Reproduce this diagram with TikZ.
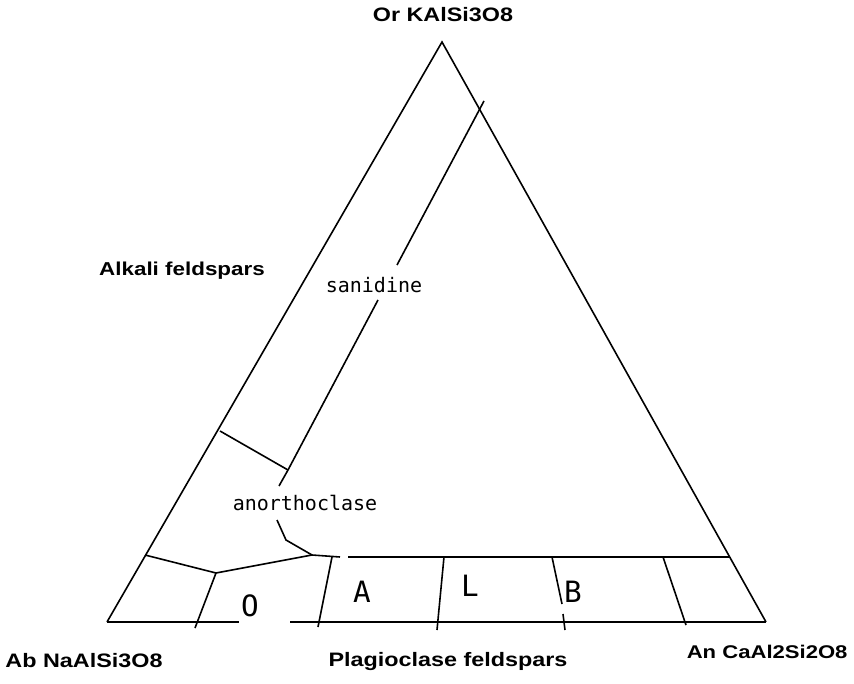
\documentclass[tikz,border=0pt]{standalone}
\usepackage{fontspec}
\newfontfamily\boldlbl[FakeStretch=1.2]{Liberation Sans}
\newfontfamily\thinlbl{DejaVu Sans Mono}
\tikzset{every picture/.style={line width=1.2pt}}
\tikzset{
  bold label/.style={inner sep=0.75pt, font=\boldlbl\bfseries\fontsize{14.6}{16}\selectfont},
  phase label/.style={inner sep=0.75pt, font=\thinlbl\fontsize{15}{17}\selectfont},
  field label/.style={inner sep=0.75pt, font=\thinlbl\fontsize{22}{24}\selectfont}
}

\begin{document}
\begin{tikzpicture}[x=0.75pt,y=0.75pt,yscale=-1,xscale=1]
    \useasboundingbox (0,0) rectangle (854,684);

    % corners
    \coordinate (or) at (442,42);
    \coordinate (ab) at (107,622);
    \coordinate (an) at (766,622);

    %Straight Lines [id:triangle sides]
    \draw    (ab) -- (or) -- (an) ;
    %Straight Lines [id:base, split round O]
    \coordinate (baseA) at (239,622);
    \coordinate (baseB) at (290,622);
    \draw    (ab) -- (baseA) ;
    \draw    (baseB) -- (an) ;

    %Straight Lines [id:plagioclase top]
    \coordinate (plgA) at (312,555);
    \coordinate (plgB) at (340,557);
    \coordinate (plgC) at (348,557);
    \coordinate (plgD) at (730,557);
    \draw    (plgA) -- (plgB) ;
    \draw    (plgC) -- (plgD) ;

    %Straight Lines [id:albite boundary]
    \coordinate (albL) at (145,555);
    \coordinate (albM) at (216,573);
    \coordinate (albB) at (195,628);
    \draw    (albL) -- (albM) -- (plgA) ;
    \draw    (albM) -- (albB) ;

    %Curve Lines [id:hook]
    \coordinate (hookT) at (277,520);
    \draw    (hookT) -- (286,540) -- (plgA) ;

    %Straight Lines [id:sanidine boundary]
    \coordinate (sanT) at (484,101);
    \coordinate (sanG1) at (397,265);
    \coordinate (sanG2) at (378,300);
    \coordinate (sanX) at (288,470);
    \coordinate (sanE) at (279,486);
    \draw    (sanT) -- (sanG1) ;
    \draw    (sanG2) -- (sanX) -- (sanE) ;

    %Straight Lines [id:anorthoclase tie]
    \coordinate (tieL) at (220,431);
    \draw    (tieL) -- (sanX) ;

    %Straight Lines [id:plagioclase dividers]
    \draw    (332,557) coordinate (oaT) -- (318,627) coordinate (oaB) ;
    \draw    (444,557) coordinate (alT) -- (437,630) coordinate (alB) ;
    \draw    (552,557) coordinate (lbT) -- (562,604) coordinate (lbM) ;
    \draw    (563,614) coordinate (lbN) -- (565,630) coordinate (lbB) ;
    \draw    (663,557) coordinate (brT) -- (686,625) coordinate (brB) ;

    % Text Node
    \node[bold label] (orlbl) at (443,15) {Or KAlSi3O8};
    % Text Node
    \node[bold label, font=\boldlbl\bfseries\fontsize{14}{16}\selectfont] (alklbl) at (182,271) {Alkali feldspars};
    % Text Node
    \node[phase label] (sanlbl) at (374,285) {sanidine};
    % Text Node
    \node[phase label] (anolbl) at (305,503) {anorthoclase};
    % Text Node
    \node[field label] (olbl) at (250,606) {O};
    % Text Node
    \node[field label] (albl) at (362,592) {A};
    % Text Node
    \node[field label] (llbl) at (470,586) {L};
    % Text Node
    \node[field label] (blbl) at (573,592) {B};
    % Text Node
    \node[bold label] (ablbl) at (84,661) {Ab NaAlSi3O8};
    % Text Node
    \node[bold label] (plglbl) at (448,662) {Plagioclase feldspars};
    % Text Node
    \node[bold label, font=\boldlbl\bfseries\fontsize{13.8}{16}\selectfont, anchor=west] (anlbl) at (685,652) {An CaAl2Si2O8};

\end{tikzpicture}
\end{document}
